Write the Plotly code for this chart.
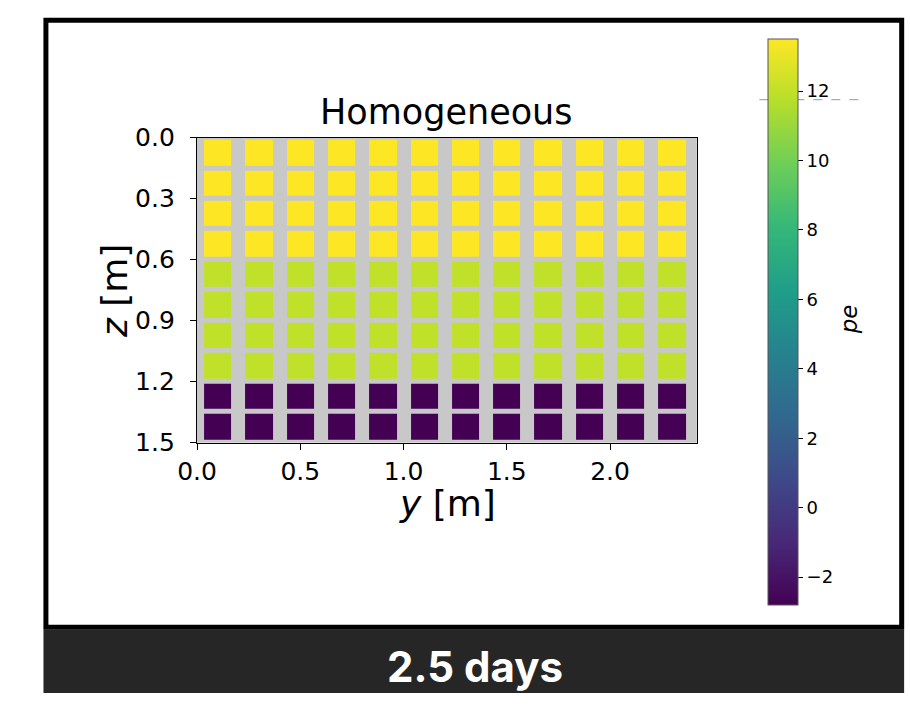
import plotly.graph_objects as go

W, H = 910, 708

# ---- data ----
y_pos_m = [0.1, 0.3, 0.5, 0.7, 0.9, 1.1, 1.3, 1.5, 1.7, 1.9, 2.1, 2.3]
z_depth_m = [0.075, 0.225, 0.375, 0.525, 0.675, 0.825, 0.975, 1.125, 1.275, 1.425]
pe_by_row = [13.5, 13.5, 13.5, 13.5, 12.0, 12.0, 12.0, 12.0, -2.8, -2.8]
pe_min, pe_max = -2.8, 13.5
cbar_ticks = [-2, 0, 2, 4, 6, 8, 10, 12]
x_ticks = [0.0, 0.5, 1.0, 1.5, 2.0]
z_ticks = [0.0, 0.3, 0.6, 0.9, 1.2, 1.5]
marker_level = 11.75
title_text = "Homogeneous"
footer_text = "2.5 days"

pe_grid = [[v for _ in y_pos_m] for v in pe_by_row]

def px(x):
    return x / W

def py(y):
    return 1 - y / H

# geometry (pixels)
ax_l, ax_r, ax_t, ax_b = 181, 692, 129, 447
cb_l, cb_t, cb_b, cb_w = 765, 26, 616, 30

fig = go.Figure()
fig.add_trace(go.Heatmap(
    x=y_pos_m, y=z_depth_m, z=pe_grid,
    colorscale="Viridis", zmin=pe_min, zmax=pe_max,
    xgap=14, ygap=5,
    colorbar=dict(
        x=px(cb_l), xanchor="left", xpad=0,
        y=py(cb_t), yanchor="top", ypad=0,
        len=(cb_b - cb_t) / H, lenmode="fraction",
        thickness=cb_w, thicknessmode="pixels",
        outlinewidth=1, outlinecolor="#555555",
        tickvals=cbar_ticks, ticks="outside", ticklen=5, tickcolor="black",
        tickfont=dict(size=18, color="black", family="DejaVu Sans"),
    ),
    hoverinfo="skip",
))

axis_common = dict(
    showline=True, linecolor="black", linewidth=1.3, mirror=True,
    ticks="outside", ticklen=6, tickwidth=1.3, tickcolor="black",
    showgrid=False, zeroline=False,
    tickfont=dict(size=25, color="black", family="DejaVu Sans"),
    tickformat=".1f",
)

fig.update_layout(
    width=W, height=H,
    margin=dict(l=0, r=0, t=0, b=0),
    paper_bgcolor="white", plot_bgcolor="#c8c8c8",
    font=dict(family="DejaVu Sans", color="black"),
    xaxis=dict(domain=[px(ax_l), px(ax_r)], range=[0, 2.42],
               tickvals=x_ticks, **axis_common),
    yaxis=dict(domain=[py(ax_b), py(ax_t)], range=[1.5, 0],
               tickvals=z_ticks, ticklabelstandoff=10, **axis_common),
    showlegend=False,
)

# level marker on the colorbar
ym = cb_t + (pe_max - marker_level) / (pe_max - pe_min) * (cb_b - cb_t)
fig.add_shape(type="line", xref="paper", yref="paper",
              x0=px(756), x1=px(863), y0=py(ym), y1=py(ym),
              line=dict(color="#999999", width=1, dash="dash"))

# footer band and frame
fig.add_shape(type="rect", xref="paper", yref="paper",
              x0=px(24), x1=px(904), y0=py(708), y1=py(642),
              fillcolor="#262626", line=dict(width=0), layer="above")
fig.add_shape(type="rect", xref="paper", yref="paper",
              x0=px(26.5), x1=px(901.5), y0=py(639.5), y1=py(6.5),
              line=dict(color="black", width=5), layer="above")

ann = [
    dict(text=title_text, x=px(436.5), y=py(102), font=dict(size=35)),
    dict(text="<i>y</i> [m]", x=px(437), y=py(510), font=dict(size=36)),
    dict(text="<i>z</i> [m]", x=px(96), y=py(288), font=dict(size=36), textangle=-90),
    dict(text="<i>pe</i>", x=px(848), y=py(318), font=dict(size=23), textangle=-90),
    dict(text="<b>" + footer_text + "</b>", x=px(465), y=py(680),
         font=dict(size=42, color="white", family="Inter")),
]
for a in ann:
    fig.add_annotation(xref="paper", yref="paper", showarrow=False,
                       xanchor="center", yanchor="middle", **a)

fig.write_html("out.html")
